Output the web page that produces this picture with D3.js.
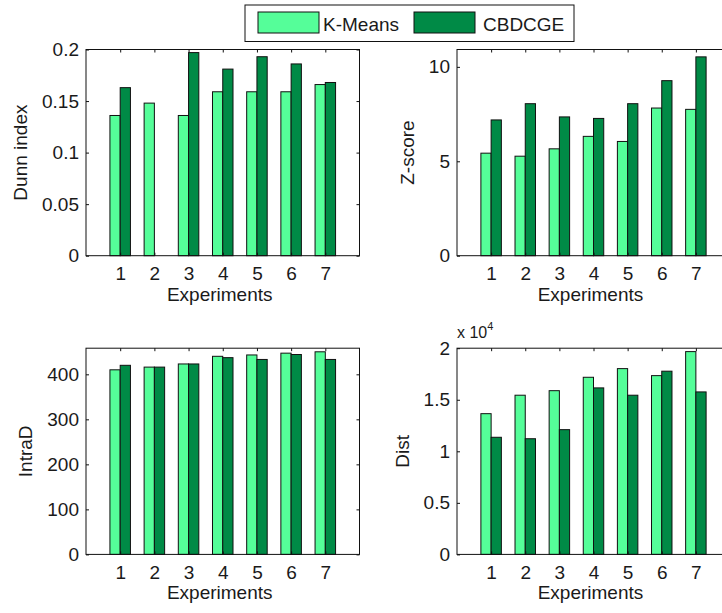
<!DOCTYPE html>
<html>
<head>
<meta charset="utf-8">
<script src="https://cdn.jsdelivr.net/npm/d3@7"></script>
<style>
  body { margin: 0; background: #fff; overflow: hidden; }
  svg { overflow: hidden; }
  text { font-family: Arial, "Liberation Sans", Helvetica, sans-serif; fill: #1a1a1a; }
</style>
</head>
<body>
<div id="vis"></div>
<script>
// data
var experiments = [1, 2, 3, 4, 5, 6, 7];
var seriesNames = ["K-Means", "CBDCGE"];

var dunnKMeans  = [0.136, 0.148, 0.136, 0.159, 0.159, 0.159, 0.166];
var dunnCBDCGE  = [0.163, 0, 0.197, 0.181, 0.193, 0.186, 0.168];
var zKMeans     = [5.43, 5.27, 5.66, 6.32, 6.05, 7.82, 7.75];
var zCBDCGE     = [7.19, 8.05, 7.35, 7.27, 8.05, 9.27, 10.53];
var intraKMeans = [410, 416, 423, 440, 443, 447, 450];
var intraCBDCGE = [420, 416, 423, 437, 433, 444, 433];
var distKMeans  = [1.365, 1.544, 1.588, 1.718, 1.802, 1.734, 1.967]; // x 10^4
var distCBDCGE  = [1.136, 1.122, 1.210, 1.615, 1.544, 1.777, 1.576]; // x 10^4

var dunnTicks  = [0, 0.05, 0.1, 0.15, 0.2];
var zTicks     = [0, 5, 10];
var intraTicks = [0, 100, 200, 300, 400];
var distTicks  = [0, 0.5, 1, 1.5, 2];

var colors = ["#55fe99", "#008a46"];

var width = 722, height = 613;
var fontSize = 19;

var panels = [
  { label: "Dunn index", a: dunnKMeans,  b: dunnCBDCGE,  ticks: dunnTicks,  ymax: 0.2,
    x: 86,  y: 49.5,  w: 273.5, h: 206.2 },
  { label: "Z-score",    a: zKMeans,     b: zCBDCGE,     ticks: zTicks,     ymax: 10.92,
    x: 457, y: 49.5,  w: 273,   h: 206.2 },
  { label: "IntraD",     a: intraKMeans, b: intraCBDCGE, ticks: intraTicks, ymax: 458,
    x: 86,  y: 348.2, w: 273.5, h: 206.2 },
  { label: "Dist",       a: distKMeans,  b: distCBDCGE,  ticks: distTicks,  ymax: 2,
    x: 457, y: 348.2, w: 273,   h: 206.2, exponent: "4" }
];

var svg = d3.select("#vis").append("svg")
    .attr("width", width)
    .attr("height", height)
    .style("display", "block");

svg.append("rect").attr("width", width).attr("height", height).attr("fill", "#fff");

panels.forEach(function(p) {
  var g = svg.append("g").attr("transform", "translate(" + p.x + "," + p.y + ")");

  var x = d3.scaleLinear().domain([0, 8]).range([0, p.w]);
  var y = d3.scaleLinear().domain([0, p.ymax]).range([p.h, 0]);
  var barW = x(0.3) - x(0);

  // bars
  var groups = g.selectAll(".grp").data(experiments).enter().append("g").attr("class", "grp");
  groups.append("rect")
      .attr("x", function(d) { return x(d) - barW; })
      .attr("y", function(d, i) { return y(p.a[i]); })
      .attr("width", barW)
      .attr("height", function(d, i) { return y(0) - y(p.a[i]); })
      .attr("fill", colors[0])
      .attr("stroke", "#111")
      .attr("stroke-width", 1);
  groups.filter(function(d, i) { return p.b[i] > 0; }).append("rect")
      .attr("x", function(d) { return x(d); })
      .attr("y", function(d) { return y(p.b[d - 1]); })
      .attr("width", barW)
      .attr("height", function(d) { return y(0) - y(p.b[d - 1]); })
      .attr("fill", colors[1])
      .attr("stroke", "#111")
      .attr("stroke-width", 1);

  // box
  g.append("rect")
      .attr("width", p.w).attr("height", p.h)
      .attr("fill", "none").attr("stroke", "#111").attr("stroke-width", 1);

  var fmt = function(d) { return String(d); };

  var yAxis = g.append("g")
      .call(d3.axisLeft(y).tickValues(p.ticks).tickFormat(fmt).tickSize(-3).tickPadding(7));
  g.append("g").attr("transform", "translate(" + p.w + ",0)")
      .call(d3.axisRight(y).tickValues(p.ticks).tickFormat("").tickSize(-3));
  g.append("g").attr("transform", "translate(0," + p.h + ")")
      .call(d3.axisBottom(x).tickValues(experiments).tickFormat(fmt).tickSize(-3).tickPadding(11));
  g.append("g")
      .call(d3.axisTop(x).tickValues(experiments).tickFormat("").tickSize(-3));

  g.selectAll(".domain").remove();
  g.selectAll(".tick line").attr("stroke", "#111");
  g.selectAll(".tick text")
      .attr("font-family", null)
      .style("font-size", fontSize + "px")
      .attr("fill", "#1a1a1a");

  // y label placed left of the widest tick label
  var minLeft = 0;
  yAxis.selectAll("text").each(function() {
    var b = this.getBBox();
    minLeft = Math.min(minLeft, b.x);
  });
  g.append("text")
      .attr("transform", "translate(" + (minLeft - 15) + "," + (p.h / 2) + ") rotate(-90)")
      .attr("text-anchor", "middle")
      .style("font-size", fontSize + "px")
      .text(p.label);

  g.append("text")
      .attr("x", p.w / 2 - 3)
      .attr("y", p.h + 45)
      .attr("text-anchor", "middle")
      .style("font-size", fontSize + "px")
      .text("Experiments");

  if (p.exponent) {
    var ex = g.append("text")
        .attr("x", 0)
        .attr("y", -10)
        .style("font-size", "16px");
    ex.append("tspan").text("x 10");
    ex.append("tspan").attr("dy", -8).style("font-size", "11px").text(p.exponent);
  }
});

// legend
var legend = svg.append("g").attr("transform", "translate(245,5)");
legend.append("rect")
    .attr("width", 329).attr("height", 36.5)
    .attr("fill", "#fff").attr("stroke", "#111").attr("stroke-width", 1);

var legendX = [13, 169];
seriesNames.forEach(function(name, i) {
  legend.append("rect")
      .attr("x", legendX[i]).attr("y", 7)
      .attr("width", 61).attr("height", 21)
      .attr("fill", colors[i]).attr("stroke", "#111").attr("stroke-width", 1);
  legend.append("text")
      .attr("x", legendX[i] + (i === 0 ? 65 : 69))
      .attr("y", 26)
      .style("font-size", fontSize + "px")
      .text(name);
});
</script>
</body>
</html>
